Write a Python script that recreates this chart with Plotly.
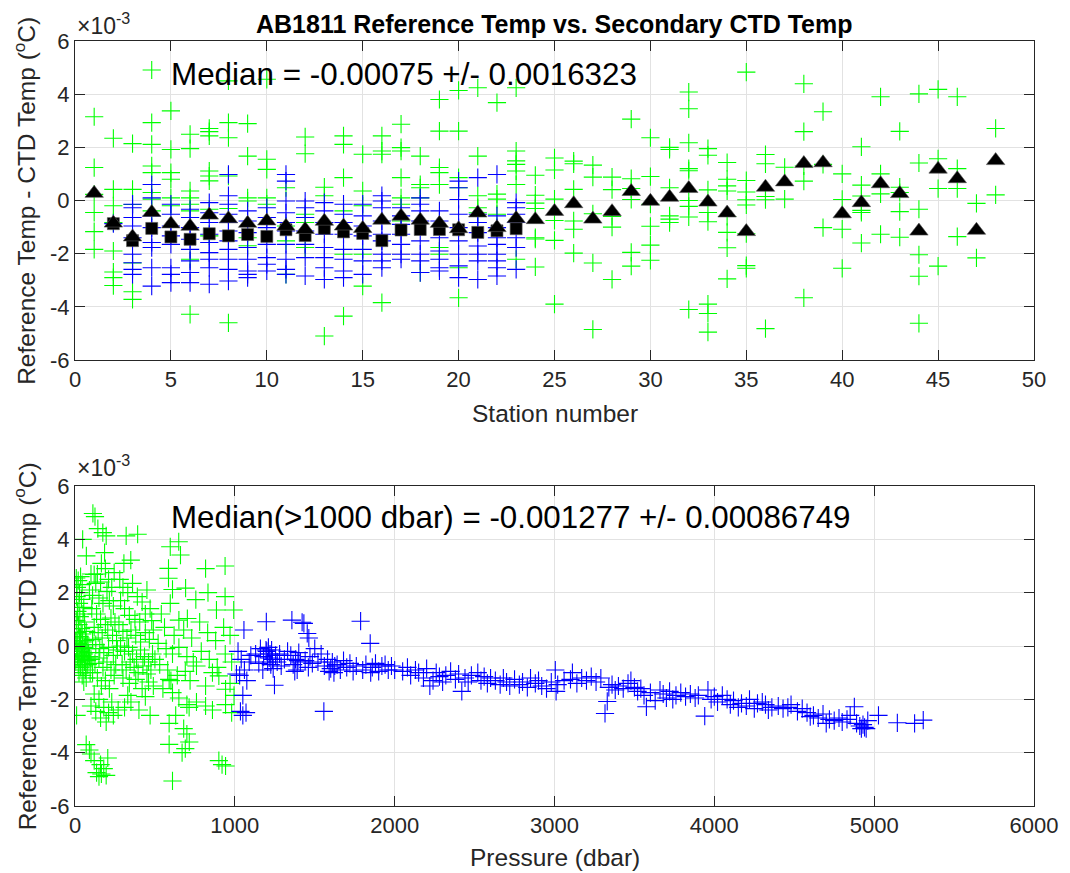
import plotly.graph_objects as go

# ---------------- data (residuals in units of 1e-3 degC) ----------------
stations = list(range(1, 49))

# top panel: shallow (<1000 dbar) residuals per station (green +)
top_green = [
    [3.15, 1.24, 0.23, -0.45, -1.17, -1.84],
    [2.34, 0.42, -0.2, -0.83, -1.9, -2.69, -2.9, -3.2],
    [2.14, 0.42, -0.15, -2.35, -3.43, -3.72],
    [4.91, 2.93, 2.11, 1.3, 1.05, 0.3, 0.05, -0.39],
    [3.37, 1.92, 1.05, 0.8, 0.1, -0.2],
    [2.49, 1.95, 0.36, 0.1, -0.14, -0.39, -2.21, -4.28],
    [2.71, 2.59, 2.43, 1.11, 0.92, 0.74, -0.33, -1.33],
    [4.5, 2.93, 2.36, 0.92, -0.3, -4.6],
    [2.89, 1.67, 0.1, -0.02, -1.4, -1.7],
    [4.56, 1.55, 1.17, 0.1, -0.14],
    [0.48, -0.96, -1.52, -2.78],
    [2.39, 1.76, -0.52, -0.83, -1.77],
    [0.5, 0.18, -5.1],
    [2.43, 2.11, 0.86, -0.39, -2.02, -4.35],
    [1.74, 0.36, -0.2, -2.02, -3.22],
    [2.43, 1.86, 1.74, -3.84],
    [2.87, 1.99, 1.86, 0.86, 0.1, -0.14, -0.77],
    [1.67, 0.6, 0.48, 0.1, -2.71],
    [3.8, 2.61, 1.24, 1.05, 0.6, -1.77, -2.02],
    [4.14, 2.61, 0.86, 0.48, -2.53, -3.66],
    [4.24, 1.67, 0.18, -0.27, -0.46],
    [3.68, 0.24, 0.05, -0.52],
    [4.24, 1.86, 1.49, 1.36, 1.11, 0.6, -2.21],
    [0.95, 0.2, -0.1, -0.3, -1.4, -1.45, -2.5],
    [1.6, 1.15, 0.05, -0.75, -1.5, -3.9],
    [1.48, 1.38, 0.42, -0.77, -1.08, -1.98],
    [1.33, 0.88, -0.5, -2.35, -4.85],
    [0.88, 0.41, -0.6, -1.0, -2.97],
    [3.06, 0.82, 0.45, 0.04, -1.95, -2.47],
    [2.36, 0.9, -0.14, -0.97, -1.68, -2.25],
    [2.0, 1.92, 0.48, -0.58, -0.7, -0.83],
    [4.08, 3.45, 2.17, 1.2, 1.12, 0.0, -0.22, -0.62, -4.1],
    [1.95, 1.7, 0.4, -0.45, -0.8, -3.9, -4.25, -4.95],
    [1.43, 0.8, 0.55, 0.36, -0.6, -1.2, -1.78, -2.95],
    [4.83, 0.75, 0.32, 0.03, -0.17, -1.25, -2.45, -2.55],
    [1.73, 1.38, 0.15, 0.03, -4.82],
    [1.25, 0.05],
    [4.39, 2.59, 1.3, 0.73, -3.66],
    [3.34, 1.36, -1.02],
    [1.0, 0.04, -1.08, -2.55],
    [2.02, 0.58, 0.17, -0.37, -0.45, -1.6],
    [3.9, 1.0, 0.25, -1.27],
    [2.6, 0.5, 0.3, -0.42, -1.38],
    [4.01, 1.41, -0.33, -2.04, -2.85, -4.62],
    [4.18, 1.57, 0.45, -2.47],
    [3.9, 1.2, 0.45, -1.36],
    [-0.11, -2.16],
    [2.71, 0.21],
]

# top panel: deep (>1000 dbar) residuals per station 1..23 (blue +)
top_blue = [
    [],
    [-0.87],
    [-0.14, -0.27, -0.64, -0.96, -1.4, -2.02, -2.34, -2.59, -2.78],
    [0.6, 0.1, -0.58, -1.02, -1.58, -1.77, -2.53, -3.22],
    [-0.14, -0.52, -0.96, -1.33, -1.65, -2.53, -2.78, -3.09],
    [-0.33, -0.64, -1.02, -1.46, -1.84, -2.27, -2.71, -3.09],
    [-0.08, -0.46, -0.83, -1.27, -1.58, -1.96, -2.21, -2.53, -3.15],
    [0.98, 0.18, -0.14, -0.52, -0.83, -1.15, -1.52, -1.84, -2.21, -2.59, -3.03],
    [-0.39, -0.77, -1.21, -1.77, -2.21, -2.65, -2.78, -2.9],
    [-0.27, -0.64, -1.02, -1.65, -2.15, -2.4, -2.65],
    [0.98, 0.73, -0.02, -0.46, -0.83, -1.15, -1.65, -2.21, -2.59, -2.78],
    [-0.02, -0.27, -0.64, -1.15, -1.65, -2.15, -2.84],
    [-0.08, -0.39, -0.83, -1.27, -1.77, -2.15, -2.53, -2.97],
    [-0.14, -0.52, -0.83, -1.27, -1.84, -2.21, -2.65, -2.9],
    [-0.14, -0.58, -0.96, -1.33, -1.84, -2.27, -2.78],
    [0.18, -0.02, -0.27, -0.77, -1.27, -1.52, -2.02, -2.27, -2.53],
    [-0.27, -0.58, -0.9, -1.27, -1.65, -2.02, -2.21],
    [0.1, -0.14, -0.39, -0.77, -1.52, -2.02, -2.27, -2.71],
    [-0.39, -0.77, -1.4, -1.9, -2.21, -2.53, -2.65],
    [0.73, 0.48, 0.04, -0.52, -1.02, -1.52, -2.02, -2.46, -2.9],
    [0.86, -0.52, -0.83, -1.21, -1.71, -2.02, -2.27, -2.97],
    [0.98, -0.58, -1.02, -1.4, -1.65, -2.02, -2.27, -2.53, -2.84],
    [-0.08, -0.27, -0.52, -0.83, -1.4, -1.77, -2.59],
]

# station medians, all depths (black triangles)
median_all = [0.27, -0.85, -1.37, -0.45, -0.88, -0.97, -0.55, -0.69, -0.86, -0.77,
              -0.97, -1.09, -0.78, -0.96, -1.05, -0.74, -0.59, -0.74, -0.86, -1.06,
              -0.47, -1.02, -0.68, -0.72, -0.41, -0.12, -0.70, -0.42, 0.34, -0.03,
              0.12, 0.45, -0.06, -0.47, -1.17, 0.50, 0.70, 1.39, 1.42, -0.50,
              -0.08, 0.63, 0.26, -1.15, 1.18, 0.82, -1.12, 1.50]

# station medians, deep only (black squares)
median_deep_station = list(range(2, 24))
median_deep = [-0.87, -1.51, -1.05, -1.37, -1.46, -1.25, -1.33, -1.28, -1.35, -1.10,
               -1.32, -1.05, -1.18, -1.24, -1.51, -1.11, -1.09, -1.09, -1.10, -1.20,
               -1.14, -1.06]

# bottom panel: (pressure dbar, residual) shallow points (green +)
bot_green = [
    (8, 2.55), (20, 2.45), (35, 2.6), (12, 2.2), (28, 2.0), (45, 2.3), (10, 1.85), (25, 1.6),
    (40, 1.75), (55, 1.45), (15, 1.3), (30, 1.1), (50, 1.2), (8, 0.95), (22, 0.8), (38, 0.65),
    (60, 0.9), (12, 0.5), (28, 0.35), (45, 0.45), (70, 0.55), (5, 0.2), (18, 0.1), (32, 0.05),
    (48, 0.15), (65, 0.2), (80, 0.05), (10, -0.1), (25, -0.2), (40, -0.15), (55, -0.3), (70, -0.1),
    (85, -0.25), (15, -0.4), (30, -0.5), (45, -0.45), (60, -0.6), (75, -0.55), (90, -0.4), (20, -0.7),
    (35, -0.8), (50, -0.75), (65, -0.9), (80, -0.7), (25, -1.0), (45, -1.1), (70, -1.2), (10, -2.6),
    (55, -1.35), (95, -1.0), (5, -0.6), (18, -0.3), (35, 0.3), (58, -0.05), (42, -0.35), (62, -0.45),
    (112, 4.97), (125, 4.85), (143, 4.4), (174, 4.25), (195, 4.13), (48, 4.0), (71, 3.38), (185, 3.5),
    (165, 3.1), (140, 2.7), (100, 2.7), (120, 2.68), (190, 2.9), (210, 2.5), (230, 2.2), (160, 2.4),
    (245, 2.75), (200, 2.05), (130, 2.35), (90, 2.1), (110, 1.9), (150, 1.8), (175, 1.6), (215, 1.7),
    (240, 1.5), (105, 1.4), (135, 1.2), (160, 1.0), (190, 0.8), (225, 1.05), (250, 0.9), (120, 0.7),
    (145, 0.5), (170, 0.3), (205, 0.6), (235, 0.4), (260, 0.2), (110, 0.25), (130, 0.05), (155, -0.1),
    (180, -0.25), (210, -0.05), (240, -0.35), (265, -0.15), (100, -0.5), (125, -0.65), (150, -0.45),
    (175, -0.8), (200, -0.6), (225, -0.9), (255, -0.7), (110, -1.0), (140, -1.2), (165, -1.5),
    (190, -1.3), (215, -1.6), (245, -1.1), (120, -1.8), (150, -2.0), (180, -2.3), (210, -2.5),
    (230, -2.1), (100, -2.25), (130, -2.45), (160, -2.7), (195, -2.85), (240, -2.6), (270, -2.4),
    (70, -3.7), (90, -3.9), (100, -4.05), (120, -4.3), (135, -4.75), (150, -4.9), (165, -4.8),
    (180, -4.6), (195, -4.85), (205, -4.2), (160, -4.45),
    (320, 4.13), (392, 4.19), (306, 3.1), (349, 3.22), (280, 2.5), (300, 2.2), (330, 2.0), (360, 2.35),
    (390, 1.85), (420, 1.65), (450, 2.1), (470, 1.4), (285, 1.7), (310, 1.4), (340, 1.15), (375, 1.0),
    (405, 0.9), (440, 1.2), (480, 0.95), (275, 0.8), (300, 0.55), (325, 0.3), (350, 0.6), (380, 0.4),
    (410, 0.15), (440, 0.5), (465, 0.25), (490, 0.6), (285, 0.0), (310, -0.2), (335, -0.05), (360, -0.3),
    (385, -0.5), (410, -0.15), (435, -0.4), (460, -0.6), (485, -0.3), (295, -0.7), (320, -0.9),
    (345, -0.6), (370, -0.8), (395, -1.0), (425, -0.75), (450, -1.05), (475, -0.9), (500, -0.5),
    (300, -1.2), (340, -1.4), (380, -1.25), (420, -1.6), (460, -1.35), (490, -1.5), (310, -2.3),
    (350, -2.1), (400, -2.4), (440, -1.9), (470, -2.6), (330, -1.85),
    (596, 3.72), (649, 3.91), (660, 3.41), (585, 2.91), (585, 2.54), (817, 2.9), (939, 3.0), (692, 2.17),
    (832, 2.0), (756, 1.74), (939, 1.85), (993, 1.35), (596, 1.6), (885, 1.35), (650, 0.97), (703, 1.03),
    (610, 2.12), (540, 1.2), (560, 0.7), (620, 0.4), (680, 0.6), (730, 0.3), (780, 0.9), (830, 0.5),
    (880, 0.2), (930, 0.7), (970, 0.4), (520, 0.1), (570, -0.1), (610, -0.3), (650, -0.05), (700, -0.4),
    (740, -0.6), (790, -0.2), (840, -0.5), (890, -0.8), (940, -0.3), (980, -0.6), (530, -0.7), (580, -0.9),
    (589, -1.25), (600, -1.3), (640, -1.1), (690, -0.95), (720, -1.3), (760, -0.75), (817, -1.5),
    (860, -1.0), (900, -1.12), (942, -1.62), (970, -1.4), (995, -1.85), (550, -1.6), (610, -1.75),
    (650, -1.95), (700, -2.2), (714, -2.3), (760, -2.1), (817, -2.25), (860, -2.4), (942, -2.2),
    (980, -2.5), (589, -2.9), (630, -2.6), (680, -3.1), (700, -3.3), (715, -3.6), (690, -3.85),
    (670, -4.0), (589, -3.69), (610, -5.06), (900, -4.3), (942, -4.5), (920, -4.45),
]

# bottom panel: (pressure dbar, residual) deep points (blue +)
bot_blue = [
    (1057, 0.6), (1020, -0.2), (1040, -0.5), (1060, -0.9), (1030, -1.1), (1075, -1.3), (1050, -1.85),
    (1035, -2.45), (1050, -2.6), (1070, -2.5), (1090, -0.6), (1100, -0.35), (1010, -1.05),
    (1130, -0.3), (1160, -0.1), (1180, -0.4), (1197, 0.91), (1200, -0.2), (1205, -0.6), (1210, -0.05),
    (1215, -0.45), (1220, -0.3), (1225, -0.7), (1230, -0.15), (1235, -0.5), (1240, -0.85), (1248, -1.47),
    (1255, -0.35), (1265, -0.6), (1280, -0.3), (1290, -0.75), (1150, -0.65), (1175, -0.9), (1195, -0.15),
    (1310, -0.5), (1330, -0.2), (1357, 0.97), (1350, -0.35), (1365, -0.7), (1380, -0.5), (1390, -0.9),
    (1400, -0.25), (1410, -0.6), (1421, 0.89), (1432, 0.85), (1440, -0.55), (1453, 0.47), (1460, -0.8),
    (1463, 0.3), (1470, -0.4), (1485, -0.65), (1500, -0.1), (1375, -0.95), (1395, -0.55),
    (1520, -0.6), (1540, -0.3), (1557, -2.45), (1560, -0.75), (1580, -0.5), (1600, -0.85), (1610, -0.6),
    (1620, -1.0), (1640, -0.7), (1660, -0.9), (1680, -0.55), (1700, -0.8), (1590, -0.95), (1625, -0.75),
    (1720, -0.65), (1740, -0.95), (1760, -0.75), (1787, 0.93), (1800, -0.9), (1820, -0.7), (1847, 0.1),
    (1860, -0.8), (1880, -0.65), (1900, -0.95), (1920, -0.75), (1940, -0.7), (1960, -0.9), (1980, -0.75),
    (2000, -0.9), (1850, -1.0),
    (2050, -0.95), (2080, -0.8), (2100, -1.1), (2130, -0.9), (2150, -1.0), (2180, -1.2), (2200, -0.85),
    (2220, -1.5), (2240, -1.3), (2260, -1.0), (2280, -1.15), (2300, -1.35), (2320, -1.1), (2350, -0.95),
    (2380, -1.25), (2400, -1.05), (2420, -1.7), (2440, -1.2), (2460, -1.35), (2480, -1.1),
    (2520, -1.0), (2540, -1.3), (2560, -1.15), (2580, -1.4), (2600, -1.2), (2630, -1.3), (2660, -1.45),
    (2680, -1.2), (2700, -1.35), (2720, -1.5), (2750, -1.25), (2780, -1.45), (2800, -1.35), (2830, -1.55),
    (2850, -1.2), (2880, -1.4), (2900, -1.3), (2920, -1.5), (2950, -1.6), (2980, -1.35), (3005, -0.9),
    (3010, -1.7), (3020, -1.45),
    (3060, -1.3), (3100, -1.25), (3112, -1.0), (3140, -1.4), (3170, -1.2), (3200, -1.3), (3230, -1.15),
    (3260, -1.35), (3290, -1.2), (3316, -2.53), (3330, -2.08), (3340, -1.55), (3360, -1.45), (3380, -1.65),
    (3400, -1.5), (3430, -1.6), (3460, -1.4), (3478, -1.3), (3500, -1.55),
    (3520, -1.7), (3540, -1.6), (3560, -1.85), (3575, -2.28), (3600, -1.75), (3630, -2.05), (3660, -1.65),
    (3680, -1.8), (3700, -1.95), (3720, -1.7), (3740, -2.0), (3760, -1.85), (3790, -1.75), (3820, -1.9),
    (3850, -1.8), (3880, -1.95), (3900, -1.85), (3940, -2.63), (3960, -1.65), (3980, -2.0), (4000, -1.9),
    (4020, -2.1), (4050, -1.85), (4080, -2.0), (4100, -2.2), (4120, -2.05), (4150, -2.3), (4170, -2.15),
    (4200, -2.25), (4220, -2.0), (4250, -2.35), (4270, -2.15), (4300, -2.1), (4320, -2.2), (4338, -2.4),
    (4360, -2.3), (4400, -2.25), (4430, -2.35), (4460, -2.3), (4480, -2.2),
    (4520, -2.45), (4550, -2.35), (4580, -2.5), (4600, -2.65), (4620, -2.6), (4650, -2.7), (4680, -2.55),
    (4700, -2.9), (4720, -2.75), (4750, -2.8), (4780, -2.7), (4800, -2.85), (4830, -2.75), (4850, -2.6),
    (4876, -2.28), (4890, -2.9), (4910, -3.0), (4920, -3.1), (4930, -2.95), (4940, -3.05), (4950, -3.1),
    (4960, -2.8),
    (5027, -2.6), (5145, -2.88), (5253, -2.9), (5307, -2.78),
]

title_text = "AB1811 Reference Temp vs. Secondary CTD Temp"
top_stat = "Median = -0.00075 +/- 0.0016323"
bot_stat = "Median(>1000 dbar) = -0.001277 +/- 0.00086749"
ylabel = "Reference Temp - CTD Temp (<sup>o</sup>C)"
y_ticks = [-6, -4, -2, 0, 2, 4, 6]
x_ticks_top = [0, 5, 10, 15, 20, 25, 30, 35, 40, 45, 50]
x_ticks_bot = [0, 1000, 2000, 3000, 4000, 5000, 6000]

# ---------------- figure ----------------
GREEN = "#00FF00"
BLUE = "#0000FF"
AXC = "#262626"
FONT = "Liberation Sans, Arial, Helvetica, sans-serif"

fig = go.Figure()

gx = [s for s, vals in zip(stations, top_green) for _ in vals]
gy = [v for vals in top_green for v in vals]
bx = [s for s, vals in zip(stations, top_blue) for _ in vals]
by = [v for vals in top_blue for v in vals]


def plus(color):
    return dict(symbol="cross-thin", size=13, color=color, line=dict(width=1.1, color=color))


fig.add_trace(go.Scatter(x=gx, y=gy, mode="markers", marker=plus(GREEN), xaxis="x", yaxis="y"))
fig.add_trace(go.Scatter(x=bx, y=by, mode="markers", marker=plus(BLUE), xaxis="x", yaxis="y"))
fig.add_trace(go.Scatter(x=median_deep_station, y=median_deep, mode="markers",
                         marker=dict(symbol="square", size=12, color="black",
                                     line=dict(width=0.6, color="#555555")),
                         xaxis="x", yaxis="y"))
fig.add_trace(go.Scatter(x=stations, y=median_all, mode="markers",
                         marker=dict(symbol="triangle-up", size=16, color="black",
                                     line=dict(width=0.6, color="#555555")),
                         xaxis="x", yaxis="y"))

fig.add_trace(go.Scatter(x=[p for p, _ in bot_green], y=[v for _, v in bot_green], mode="markers",
                         marker=plus(GREEN), xaxis="x2", yaxis="y2"))
fig.add_trace(go.Scatter(x=[p for p, _ in bot_blue], y=[v for _, v in bot_blue], mode="markers",
                         marker=plus(BLUE), xaxis="x2", yaxis="y2"))

W, H = 1070, 873
L, R, T, B = 75, 29, 41, 67
PH = H - T - B


def py(pix):
    return (H - B - pix) / PH


def px(pix):
    return (pix - L) / (W - L - R)


axis_common = dict(
    showline=True, linecolor=AXC, linewidth=1, mirror="ticks",
    ticks="inside", ticklen=10, tickwidth=1, tickcolor=AXC,
    showgrid=True, gridcolor="#E2E2E2", gridwidth=1, zeroline=False,
    tickfont=dict(family=FONT, size=22, color=AXC),
)

fig.update_layout(
    width=W, height=H,
    margin=dict(l=L, r=R, t=T, b=B, pad=0),
    paper_bgcolor="white", plot_bgcolor="white",
    showlegend=False,
    font=dict(family=FONT, color=AXC),
    xaxis=dict(domain=[0, 1], anchor="y", range=[0, 50], tickvals=x_ticks_top,
               ticktext=[str(t) for t in x_ticks_top], **axis_common),
    yaxis=dict(domain=[py(360), 1], anchor="x", range=[-6, 6], tickvals=y_ticks,
               ticktext=[str(t) for t in y_ticks], **axis_common),
    xaxis2=dict(domain=[0, 1], anchor="y2", range=[0, 6000], tickvals=x_ticks_bot,
                ticktext=[str(t) for t in x_ticks_bot], **axis_common),
    yaxis2=dict(domain=[0, py(486)], anchor="x2", range=[-6, 6], tickvals=y_ticks,
                ticktext=[str(t) for t in y_ticks], **axis_common),
)

ann = []
ann.append(dict(text="<b>" + title_text + "</b>", x=0.5, y=py(24), xref="paper", yref="paper",
                xanchor="center", yanchor="middle", showarrow=False,
                font=dict(family=FONT, size=25, color="black")))
ann.append(dict(text=top_stat, x=px(170), y=py(75), xref="paper", yref="paper",
                xanchor="left", yanchor="middle", showarrow=False,
                font=dict(family=FONT, size=31.4, color="black")))
ann.append(dict(text=bot_stat, x=px(170), y=py(517), xref="paper", yref="paper",
                xanchor="left", yanchor="middle", showarrow=False,
                font=dict(family=FONT, size=31.3, color="black")))
for ytop in (24, 466):
    ann.append(dict(text="×10<sup>-3</sup>", x=0, y=py(ytop), xref="paper", yref="paper",
                    xanchor="left", yanchor="middle", showarrow=False,
                    font=dict(family=FONT, size=23, color=AXC)))
for yc in (200.5, 646):
    ann.append(dict(text=ylabel, x=px(24), y=py(yc), xref="paper", yref="paper",
                    xanchor="center", yanchor="middle", textangle=-90, showarrow=False,
                    font=dict(family=FONT, size=24.5, color=AXC)))
ann.append(dict(text="Station number", x=0.5, y=py(413), xref="paper", yref="paper",
                xanchor="center", yanchor="middle", showarrow=False,
                font=dict(family=FONT, size=24.5, color=AXC)))
ann.append(dict(text="Pressure (dbar)", x=0.5, y=py(857), xref="paper", yref="paper",
                xanchor="center", yanchor="middle", showarrow=False,
                font=dict(family=FONT, size=24.5, color=AXC)))
fig.update_layout(annotations=ann)

fig.write_html("out.html")
